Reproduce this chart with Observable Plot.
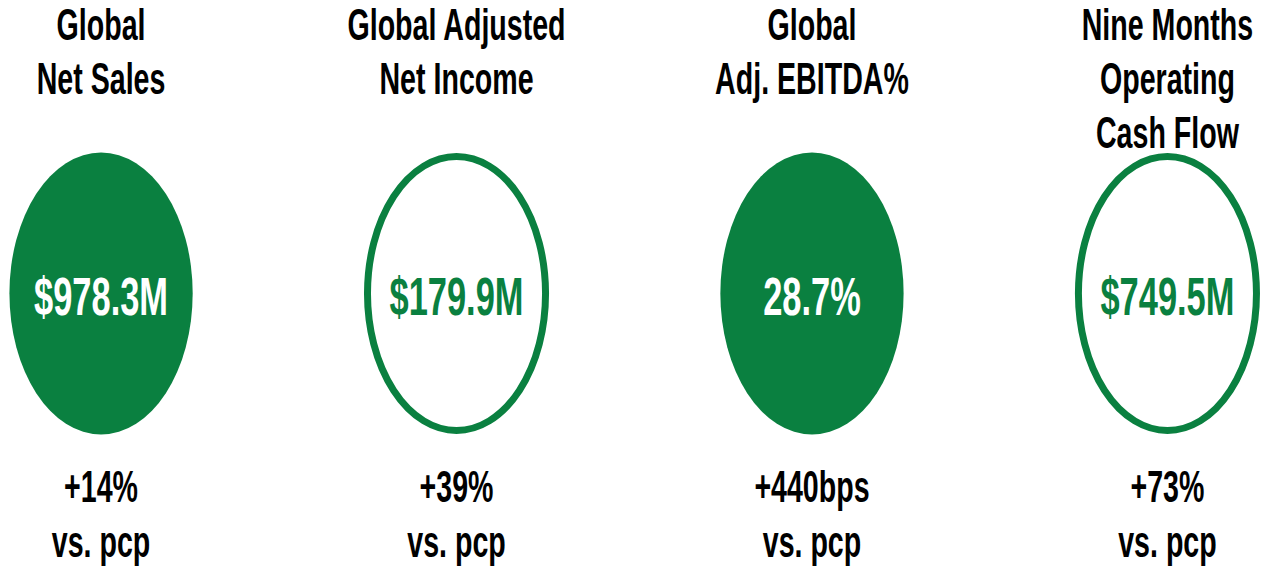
<!DOCTYPE html>
<html>
<head>
<meta charset="utf-8">
<script src="https://cdn.jsdelivr.net/npm/d3@7"></script>
<script src="https://cdn.jsdelivr.net/npm/@observablehq/plot@0.6"></script>
<style>
  html, body { margin: 0; padding: 0; background: #fff; }
  #chart { width: 1262px; height: 571px; overflow: hidden; }
</style>
</head>
<body>
<div id="chart"></div>
<script>
// ---- data ----
const metrics = ["Global\nNet Sales", "Global Adjusted\nNet Income", "Global\nAdj. EBITDA%", "Nine Months\nOperating\nCash Flow"];
const values = ["$978.3M", "$179.9M", "28.7%", "$749.5M"];
const changes = ["+14%", "+39%", "+440bps", "+73%"];
const comparison = ["vs. pcp", "vs. pcp", "vs. pcp", "vs. pcp"];
const filled = [true, false, true, false];

const data = metrics.map((m, i) => ({
  metric: m,
  value: values[i],
  change: changes[i] + "\n" + comparison[i],
  filled: filled[i]
}));

// ---- style ----
const GREEN = "#0a8040";
const FONT = "'Liberation Sans', Arial, Helvetica, sans-serif";
const SX = 0.65;          // horizontal condensation of the original artwork
const OUT_W = 1262, H = 571;
const W = Math.round(OUT_W / SX);

const chart = Plot.plot({
  width: W,
  height: H,
  marginLeft: 154,
  marginRight: 145,
  marginTop: 0,
  marginBottom: 0,
  style: { fontFamily: FONT, background: "white", overflow: "visible" },
  x: { type: "point", domain: metrics, padding: 0, axis: null },
  marks: [
    Plot.dot(data.filter(d => d.filled), {
      x: "metric", frameAnchor: "middle", dy: 7.5, r: 141,
      fill: GREEN, stroke: "none"
    }),
    Plot.dot(data.filter(d => !d.filled), {
      x: "metric", frameAnchor: "middle", dy: 7.5, r: 137,
      fill: "white", stroke: GREEN, strokeWidth: 7
    }),
    Plot.text(data, {
      x: "metric", text: "metric", frameAnchor: "top", lineAnchor: "top",
      dy: 1, fontSize: 44, fontWeight: "bold", lineHeight: 1.227, fill: "#000"
    }),
    Plot.text(data, {
      x: "metric", text: "value", frameAnchor: "middle", lineAnchor: "middle",
      dy: 12, fontSize: 53, fontWeight: "bold",
      fill: d => d.filled ? "white" : GREEN
    }),
    Plot.text(data, {
      x: "metric", text: "change", frameAnchor: "bottom", lineAnchor: "bottom",
      dy: -15, fontSize: 44, fontWeight: "bold", lineHeight: 1.25, fill: "#000"
    })
  ]
});

chart.setAttribute("width", OUT_W);
chart.setAttribute("height", H);
chart.setAttribute("preserveAspectRatio", "none");
chart.style.width = OUT_W + "px";
chart.style.height = H + "px";
chart.style.maxWidth = "none";
chart.querySelectorAll("circle").forEach(c => c.setAttribute("vector-effect", "non-scaling-stroke"));
document.getElementById("chart").appendChild(chart);
</script>
</body>
</html>
